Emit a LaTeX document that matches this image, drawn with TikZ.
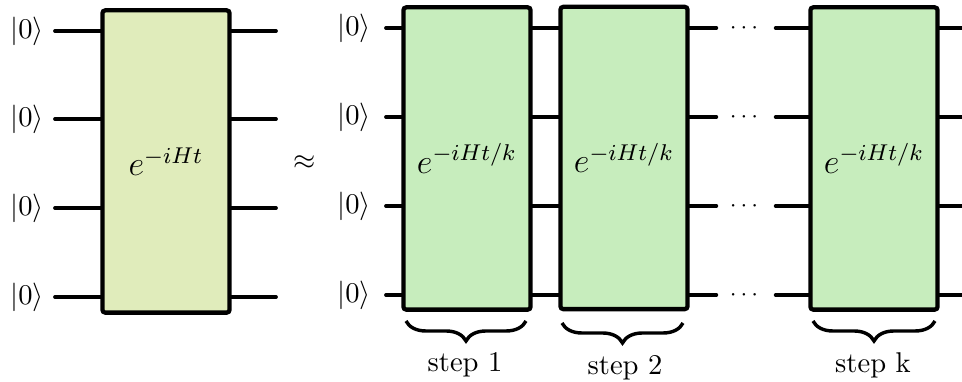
\documentclass[tikz,border=0pt]{standalone}
\usepackage{amssymb}
\usepackage{amsmath}
\usepackage{xcolor}
\usepackage{tikz}
\usetikzlibrary{decorations.pathreplacing}
\definecolor{bigcolor}{RGB}{224,236,187}
\definecolor{stepcolor}{RGB}{199,237,189}

\begin{document}
\begin{tikzpicture}[x=0.35pt, y=-0.35pt,
  gatebox/.style={draw, line width=1.5pt, rounded corners=1pt, inner sep=0pt,
    minimum width=44.5pt, minimum height=105.8pt},
  wire/.style={line width=1.3pt, line cap=round},
  stepbrace/.style={decorate, decoration={brace, mirror, amplitude=7pt}, line width=1.2pt}]
\def\labelfontsize{\normalsize}
\def\gatefontsize{\large}
\useasboundingbox (0,0) rectangle (962,382);

\begin{scope}[shift={(0, 0)}] % LEFT SIDE
\node[gatebox, fill=bigcolor] (big) at (166, 161.5) {\gatefontsize $e^{-iHt}$};

\node (ketA1) at (27, 31) {\labelfontsize $|0\rangle$};
\node (ketA2) at (27, 119) {\labelfontsize $|0\rangle$};
\node (ketA3) at (27, 208) {\labelfontsize $|0\rangle$};
\node (ketA4) at (27, 297) {\labelfontsize $|0\rangle$};

\coordinate (inA1) at (55, 31);
\coordinate (inA2) at (55, 119);
\coordinate (inA3) at (55, 208);
\coordinate (inA4) at (55, 297);
\coordinate (outA1) at (276, 31);
\coordinate (outA2) at (276, 119);
\coordinate (outA3) at (276, 208);
\coordinate (outA4) at (276, 297);

\draw[wire] (inA1) -- (inA1 -| big.west);
\draw[wire] (inA2) -- (inA2 -| big.west);
\draw[wire] (inA3) -- (inA3 -| big.west);
\draw[wire] (inA4) -- (inA4 -| big.west);
\draw[wire] (outA1 -| big.east) -- (outA1);
\draw[wire] (outA2 -| big.east) -- (outA2);
\draw[wire] (outA3 -| big.east) -- (outA3);
\draw[wire] (outA4 -| big.east) -- (outA4);
\end{scope}

\node (approx) at (305, 163) {$\approx$};

\begin{scope}[shift={(0, 0)}] % RIGHT SIDE
\node[gatebox, fill=stepcolor] (step1) at (467, 158.5) {\gatefontsize $e^{-iHt/k}$};
\node[gatebox, fill=stepcolor] (step2) at (624, 158) {\gatefontsize $e^{-iHt/k}$};
\node[gatebox, fill=stepcolor] (stepk) at (874, 158.5) {\gatefontsize $e^{-iHt/k}$};

\node (ketB1) at (354, 28) {\labelfontsize $|0\rangle$};
\node (ketB2) at (354, 117) {\labelfontsize $|0\rangle$};
\node (ketB3) at (354, 206) {\labelfontsize $|0\rangle$};
\node (ketB4) at (354, 295) {\labelfontsize $|0\rangle$};

\node[inner sep=0pt] (dots1) at (746, 28) {\footnotesize $\cdots$};
\node[inner sep=0pt] (dots2) at (746, 117) {\footnotesize $\cdots$};
\node[inner sep=0pt] (dots3) at (746, 206) {\footnotesize $\cdots$};
\node[inner sep=0pt] (dots4) at (746, 295) {\footnotesize $\cdots$};

\coordinate (inB1) at (386, 28);
\coordinate (inB2) at (386, 117);
\coordinate (inB3) at (386, 206);
\coordinate (inB4) at (386, 295);
\coordinate (outB1) at (962, 28);
\coordinate (outB2) at (962, 117);
\coordinate (outB3) at (962, 206);
\coordinate (outB4) at (962, 295);

% into step 1
\draw[wire] (inB1) -- (inB1 -| step1.west);
\draw[wire] (inB2) -- (inB2 -| step1.west);
\draw[wire] (inB3) -- (inB3 -| step1.west);
\draw[wire] (inB4) -- (inB4 -| step1.west);
% step 1 to step 2
\draw[wire] (inB1 -| step1.east) -- (inB1 -| step2.west);
\draw[wire] (inB2 -| step1.east) -- (inB2 -| step2.west);
\draw[wire] (inB3 -| step1.east) -- (inB3 -| step2.west);
\draw[wire] (inB4 -| step1.east) -- (inB4 -| step2.west);
% step 2 to dots
\draw[wire] (inB1 -| step2.east) -- ([xshift=-4.5pt]dots1.west);
\draw[wire] (inB2 -| step2.east) -- ([xshift=-4.5pt]dots2.west);
\draw[wire] (inB3 -| step2.east) -- ([xshift=-4.5pt]dots3.west);
\draw[wire] (inB4 -| step2.east) -- ([xshift=-4.5pt]dots4.west);
% dots to step k
\draw[wire] ([xshift=4.5pt]dots1.east) -- (inB1 -| stepk.west);
\draw[wire] ([xshift=4.5pt]dots2.east) -- (inB2 -| stepk.west);
\draw[wire] ([xshift=4.5pt]dots3.east) -- (inB3 -| stepk.west);
\draw[wire] ([xshift=4.5pt]dots4.east) -- (inB4 -| stepk.west);
% out of step k
\draw[wire] (outB1 -| stepk.east) -- (outB1);
\draw[wire] (outB2 -| stepk.east) -- (outB2);
\draw[wire] (outB3 -| stepk.east) -- (outB3);
\draw[wire] (outB4 -| stepk.east) -- (outB4);

% braces
\coordinate (braceL1) at (406, 321);
\coordinate (braceR1) at (526, 321);
\coordinate (braceL2) at (562, 323);
\coordinate (braceR2) at (683, 323);
\coordinate (braceLk) at (813, 321);
\coordinate (braceRk) at (935, 321);
\draw[stepbrace] (braceL1) -- (braceR1);
\draw[stepbrace] (braceL2) -- (braceR2);
\draw[stepbrace] (braceLk) -- (braceRk);

\node (label1) at (465, 365) {\labelfontsize step 1};
\node (label2) at (625, 368) {\labelfontsize step 2};
\node (labelk) at (873, 365) {\labelfontsize step k};
\end{scope}
\end{tikzpicture}
\end{document}
